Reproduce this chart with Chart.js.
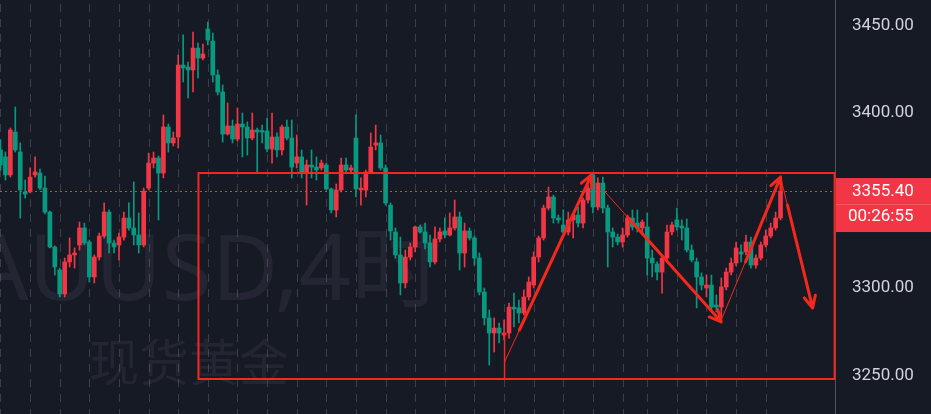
<!DOCTYPE html>
<html>
<head>
<meta charset="utf-8">
<script src="https://cdn.jsdelivr.net/npm/chart.js@4.4.1/dist/chart.umd.min.js"></script>
<style>
  html, body { margin: 0; padding: 0; background: #161a25; overflow: hidden; }
  canvas { display: block; }
</style>
</head>
<body>
<canvas id="chart" width="931" height="414"></canvas>
<script>
// XAUUSD 4H candles (oldest first)
const opens = [
  3378.9, 3374.9, 3364.6, 3389.1, 3377.7, 3354.9, 3354.9, 3364.6, 3365.7, 3357.1,
  3343.4, 3323.4, 3310.3, 3296.6, 3314.9, 3318.9, 3324.6, 3334.3, 3326.3, 3306.3,
  3317.7, 3329.7, 3343.4, 3325.7, 3324.6, 3329.1, 3340.0, 3334.3, 3330.3, 3324.6,
  3357.1, 3371.4, 3374.3, 3365.7, 3392.0, 3382.9, 3386.3, 3427.4, 3426.3, 3424.6,
  3437.1, 3431.4, 3448.0, 3441.1, 3421.7, 3412.0, 3388.0, 3392.6, 3385.1, 3393.7,
  3392.0, 3385.7, 3390.3, 3390.0, 3389.7, 3379.4, 3386.3, 3378.9, 3392.0, 3385.7,
  3371.4, 3374.9, 3365.7, 3370.3, 3369.1, 3368.6, 3370.3, 3356.6, 3344.6, 3356.0,
  3370.3, 3367.4, 3385.7, 3356.0, 3356.0, 3366.3, 3381.7, 3382.9, 3368.6, 3347.4,
  3332.0, 3318.9, 3302.9, 3317.7, 3323.4, 3334.9, 3332.0, 3325.7, 3314.9, 3328.0,
  3332.6, 3330.3, 3334.3, 3340.6, 3320.0, 3332.6, 3328.6, 3317.1, 3297.7, 3282.9,
  3274.3, 3277.1, 3273.1, 3274.3, 3289.1, 3288.6, 3285.7, 3294.9, 3301.7, 3317.7,
  3328.6, 3345.7, 3352.0, 3340.0, 3336.0, 3332.0, 3338.9, 3341.7, 3337.1, 3350.3,
  3364.6, 3346.3, 3360.0, 3345.7, 3332.0, 3329.1, 3326.3, 3330.3, 3340.0, 3337.1,
  3334.3, 3334.9, 3317.1, 3313.7, 3309.1, 3317.1, 3332.0, 3338.9, 3335.4, 3334.3,
  3321.7, 3314.9, 3306.3, 3300.0, 3301.7, 3290.3, 3289.1, 3300.6, 3309.1, 3314.3,
  3320.6, 3320.6, 3326.3, 3313.1, 3317.1, 3324.6, 3329.7, 3334.3, 3340.0
];
const highs = [
  3384.6, 3377.7, 3391.4, 3403.4, 3382.9, 3361.7, 3368.6, 3374.9, 3368.0, 3364.0,
  3344.0, 3324.0, 3311.4, 3317.1, 3328.6, 3322.9, 3337.7, 3337.1, 3327.4, 3318.9,
  3331.4, 3348.6, 3344.6, 3327.4, 3331.4, 3343.4, 3348.6, 3360.6, 3342.9, 3357.1,
  3377.1, 3377.7, 3375.4, 3398.9, 3393.7, 3389.1, 3433.1, 3444.6, 3429.1, 3446.3,
  3440.0, 3439.4, 3452.0, 3445.7, 3424.6, 3416.0, 3405.7, 3396.0, 3402.9, 3400.0,
  3394.9, 3400.0, 3391.4, 3393.1, 3397.1, 3400.0, 3388.6, 3393.1, 3396.0, 3396.0,
  3387.4, 3378.9, 3373.1, 3378.9, 3374.9, 3373.1, 3371.4, 3357.1, 3359.4, 3374.3,
  3374.3, 3370.3, 3398.9, 3362.9, 3367.4, 3388.6, 3393.1, 3387.4, 3370.3, 3348.6,
  3334.3, 3329.1, 3321.7, 3325.7, 3335.4, 3336.0, 3337.1, 3330.3, 3334.9, 3334.3,
  3340.0, 3342.9, 3350.3, 3343.4, 3337.1, 3334.3, 3329.7, 3320.0, 3300.0, 3287.4,
  3282.9, 3280.0, 3281.7, 3291.4, 3297.1, 3293.1, 3298.9, 3306.3, 3320.6, 3329.7,
  3347.4, 3357.7, 3353.1, 3341.7, 3344.6, 3343.4, 3342.9, 3346.3, 3351.4, 3358.9,
  3366.0, 3362.9, 3363.4, 3347.4, 3334.3, 3330.9, 3334.3, 3341.7, 3344.6, 3344.6,
  3338.9, 3342.9, 3321.7, 3314.9, 3318.9, 3336.0, 3337.7, 3345.7, 3338.9, 3339.4,
  3324.6, 3317.1, 3308.6, 3307.4, 3307.4, 3296.0, 3305.7, 3311.4, 3317.1, 3326.3,
  3324.6, 3330.3, 3329.1, 3318.9, 3326.3, 3333.1, 3337.1, 3343.4, 3363.4
];
const lows = [
  3367.4, 3361.7, 3363.4, 3377.7, 3340.0, 3351.4, 3354.3, 3363.4, 3356.0, 3342.3,
  3322.9, 3307.4, 3294.9, 3294.9, 3312.0, 3311.4, 3321.7, 3324.6, 3303.4, 3302.9,
  3316.0, 3328.6, 3320.0, 3320.0, 3316.0, 3327.4, 3333.1, 3324.6, 3320.0, 3323.4,
  3356.0, 3368.6, 3338.9, 3362.9, 3377.7, 3381.1, 3380.0, 3417.7, 3408.6, 3412.0,
  3420.0, 3430.3, 3438.9, 3417.7, 3410.3, 3383.4, 3387.4, 3382.9, 3384.0, 3374.9,
  3376.0, 3384.6, 3366.3, 3382.9, 3377.7, 3371.4, 3374.9, 3376.0, 3384.6, 3362.9,
  3368.6, 3362.9, 3347.4, 3362.9, 3361.7, 3367.4, 3356.0, 3342.9, 3340.6, 3354.9,
  3366.3, 3365.7, 3352.0, 3347.4, 3352.0, 3365.7, 3378.9, 3367.4, 3347.4, 3327.4,
  3317.1, 3296.0, 3300.0, 3316.0, 3320.6, 3331.4, 3322.3, 3312.0, 3313.7, 3326.3,
  3328.6, 3329.7, 3333.1, 3310.3, 3312.0, 3327.4, 3313.1, 3296.0, 3278.9, 3256.0,
  3263.4, 3268.6, 3270.3, 3271.4, 3277.7, 3280.0, 3284.6, 3293.1, 3300.0, 3314.9,
  3327.4, 3344.6, 3337.1, 3337.1, 3331.4, 3330.3, 3328.6, 3334.9, 3334.3, 3348.6,
  3342.9, 3344.6, 3342.9, 3312.0, 3323.4, 3324.6, 3323.4, 3329.1, 3333.1, 3332.0,
  3330.3, 3307.4, 3306.3, 3304.6, 3297.1, 3316.0, 3330.3, 3333.1, 3327.4, 3320.6,
  3314.9, 3288.6, 3298.9, 3294.9, 3287.4, 3286.3, 3283.4, 3298.9, 3307.4, 3312.6,
  3314.9, 3318.9, 3311.4, 3311.4, 3316.0, 3323.4, 3328.6, 3333.1, 3338.9
];
const closes = [
  3370.3, 3364.6, 3390.3, 3378.9, 3356.0, 3353.7, 3363.4, 3366.3, 3357.1, 3343.4,
  3323.4, 3312.0, 3296.6, 3314.9, 3318.9, 3320.0, 3334.3, 3325.7, 3306.3, 3317.7,
  3329.7, 3343.4, 3325.7, 3323.4, 3329.1, 3340.0, 3334.3, 3330.3, 3324.6, 3355.4,
  3371.4, 3374.3, 3365.7, 3392.0, 3382.9, 3385.7, 3427.4, 3425.7, 3424.6, 3437.1,
  3431.4, 3433.7, 3441.7, 3421.7, 3412.0, 3388.0, 3392.6, 3385.1, 3393.7, 3392.0,
  3385.7, 3390.3, 3389.1, 3389.1, 3379.4, 3386.3, 3378.9, 3392.0, 3385.7, 3369.1,
  3374.9, 3365.7, 3370.3, 3369.1, 3367.4, 3371.4, 3356.6, 3344.6, 3356.0, 3370.3,
  3367.4, 3368.6, 3356.6, 3357.1, 3366.3, 3380.6, 3382.9, 3368.6, 3348.6, 3332.6,
  3318.9, 3302.9, 3317.7, 3323.4, 3334.9, 3332.0, 3325.7, 3314.9, 3328.0, 3332.0,
  3330.3, 3334.3, 3340.6, 3320.0, 3332.6, 3328.6, 3317.1, 3297.7, 3282.9, 3274.3,
  3277.1, 3274.3, 3274.3, 3289.1, 3288.0, 3285.7, 3294.9, 3303.4, 3317.7, 3328.6,
  3345.7, 3352.0, 3340.0, 3338.9, 3332.0, 3338.9, 3341.7, 3337.1, 3350.3, 3357.1,
  3346.3, 3360.0, 3345.7, 3332.0, 3329.1, 3326.3, 3330.3, 3340.0, 3334.9, 3334.3,
  3337.7, 3317.1, 3314.3, 3309.1, 3317.1, 3332.0, 3336.0, 3334.9, 3334.3, 3321.7,
  3316.0, 3306.3, 3301.7, 3301.7, 3289.1, 3289.1, 3300.6, 3309.1, 3314.3, 3322.9,
  3319.4, 3326.3, 3313.1, 3317.1, 3324.6, 3329.7, 3334.3, 3340.0, 3355.4
];

// price axis labels (3350 sits under the live price tag)
const axisTicks = [3250, 3300, 3400, 3450];
// candle indices where the daily separators fall
const gridIdx = [0, 6, 12, 18, 24, 30, 36, 42, 48, 54, 60, 66, 72, 78, 84, 90, 96,
                 102, 108, 114, 120, 126, 131, 137, 143, 149, 155];
const countdown = '00:26:55';

// drawings in (candle index, price)
const rangeBox = [40.1, 168.95, 3365.7, 3248.0];          // x0, x1, top, bottom
const markerLine = [102.1, 3274.3, 3248.0];               // x, from, to
const thinLines = [
  [102.1, 3257.7, 119.7, 3364.6],
  [122.1, 3356.0, 146.0, 3280.6],
  [146.0, 3281.7, 158.0, 3363.4],
  [158.0, 3363.4, 164.5, 3288.6]
];
const arrows = [
  [105.1, 3276.0, 119.7, 3364.6],
  [127.0, 3340.6, 146.0, 3280.6],
  [150.9, 3314.9, 158.0, 3363.4],
  [159.4, 3347.4, 164.5, 3288.6]
];

const BG = '#161a25';
const UP = '#f23645';     // red = up
const DOWN = '#089981';   // green = down
const DRAW = '#f4281c';
const idx = closes.map((_, i) => i);
const candleColor = idx.map(i => closes[i] >= opens[i] ? UP : DOWN);

const overlay = {
  id: 'overlay',
  beforeDraw(chart) {
    const ctx = chart.ctx;
    ctx.save();
    ctx.fillStyle = BG;
    ctx.fillRect(0, 0, chart.width, chart.height);
    ctx.restore();
  },
  beforeDatasetsDraw(chart) {
    const { ctx, chartArea: a, scales: { x } } = chart;
    ctx.save();
    // vertical dashed separators
    ctx.strokeStyle = '#3b3f4c';
    ctx.lineWidth = 1;
    ctx.setLineDash([8, 7]);
    ctx.lineDashOffset = -4;
    gridIdx.forEach(v => {
      const px = Math.round(x.getPixelForValue(v)) + 0.5;
      ctx.beginPath();
      ctx.moveTo(px, a.top);
      ctx.lineTo(px, a.bottom);
      ctx.stroke();
    });
    ctx.setLineDash([]);
    // watermark
    ctx.fillStyle = 'rgba(130,134,148,0.12)';
    ctx.textBaseline = 'alphabetic';
    ctx.textAlign = 'right';
    ctx.font = '91px "Noto Sans", "Noto Sans CJK SC", sans-serif';
    ctx.fillText('XAUUSD,4时', 442, 300);
    ctx.textAlign = 'left';
    ctx.font = '50px "Noto Sans CJK SC", sans-serif';
    ctx.fillText('现货黄金', 89, 381);
    ctx.restore();
  },
  afterDatasetsDraw(chart) {
    const { ctx, chartArea: a, scales: { x, y } } = chart;
    ctx.save();
    // live price line
    const py = Math.round(y.getPixelForValue(closes[closes.length - 1])) + 0.5;
    ctx.strokeStyle = UP;
    ctx.lineWidth = 1;
    ctx.setLineDash([2, 3]);
    ctx.beginPath();
    ctx.moveTo(a.left, py);
    ctx.lineTo(a.right, py);
    ctx.stroke();
    ctx.setLineDash([]);

    // range rectangle
    ctx.strokeStyle = DRAW;
    ctx.lineWidth = 2;
    const rx0 = x.getPixelForValue(rangeBox[0]);
    const rx1 = x.getPixelForValue(rangeBox[1]);
    const ry0 = y.getPixelForValue(rangeBox[2]);
    const ry1 = y.getPixelForValue(rangeBox[3]);
    ctx.strokeRect(rx0, ry0, rx1 - rx0, ry1 - ry0);

    // vertical marker
    ctx.lineWidth = 1.5;
    const mx = x.getPixelForValue(markerLine[0]);
    ctx.beginPath();
    ctx.moveTo(mx, y.getPixelForValue(markerLine[1]));
    ctx.lineTo(mx, y.getPixelForValue(markerLine[2]));
    ctx.stroke();

    // thin trend lines
    ctx.lineWidth = 1;
    thinLines.forEach(l => {
      ctx.beginPath();
      ctx.moveTo(x.getPixelForValue(l[0]), y.getPixelForValue(l[1]));
      ctx.lineTo(x.getPixelForValue(l[2]), y.getPixelForValue(l[3]));
      ctx.stroke();
    });

    // thick arrows
    ctx.lineWidth = 3;
    ctx.lineCap = 'round';
    ctx.lineJoin = 'round';
    arrows.forEach(l => {
      const x1 = x.getPixelForValue(l[0]), y1 = y.getPixelForValue(l[1]);
      const x2 = x.getPixelForValue(l[2]), y2 = y.getPixelForValue(l[3]);
      const ang = Math.atan2(y2 - y1, x2 - x1);
      const len = 13, spread = 0.45;
      ctx.beginPath();
      ctx.moveTo(x1, y1);
      ctx.lineTo(x2, y2);
      ctx.moveTo(x2 - len * Math.cos(ang - spread), y2 - len * Math.sin(ang - spread));
      ctx.lineTo(x2, y2);
      ctx.lineTo(x2 - len * Math.cos(ang + spread), y2 - len * Math.sin(ang + spread));
      ctx.stroke();
    });
    ctx.restore();
  },
  afterDraw(chart) {
    const { ctx, chartArea: a, scales: { y } } = chart;
    const last = closes[closes.length - 1];
    const py = y.getPixelForValue(last);
    ctx.save();
    ctx.fillStyle = UP;
    ctx.fillRect(a.right + 1, py - 13, chart.width - a.right - 1, 54);
    ctx.fillStyle = 'rgba(255,255,255,0.18)';
    ctx.fillRect(a.right + 1, py + 13, chart.width - a.right - 1, 1);
    ctx.fillStyle = '#ffffff';
    ctx.font = '17px Roboto, sans-serif';
    ctx.textAlign = 'left';
    ctx.textBaseline = 'middle';
    ctx.fillText(last.toFixed(2), a.right + 17, py + 0.5);
    ctx.fillText(countdown, a.right + 13, py + 26);
    ctx.restore();
  }
};

new Chart(document.getElementById('chart'), {
  type: 'bar',
  data: {
    datasets: [
      {
        label: 'body',
        data: idx.map(i => ({ x: i, y: [opens[i], closes[i]] })),
        backgroundColor: candleColor,
        borderWidth: 0,
        barThickness: 4,
        minBarLength: 1,
        grouped: false,
        order: 0
      },
      {
        label: 'wick',
        data: idx.map(i => ({ x: i, y: [lows[i], highs[i]] })),
        backgroundColor: candleColor,
        borderWidth: 0,
        barThickness: 1,
        grouped: false,
        order: 1
      }
    ]
  },
  options: {
    responsive: false,
    animation: false,
    layout: { padding: 0 },
    plugins: { legend: { display: false }, tooltip: { enabled: false } },
    scales: {
      x: {
        type: 'linear',
        display: false,
        offset: false,
        min: -0.1,
        max: 169.03
      },
      y: {
        type: 'linear',
        position: 'right',
        min: 3228,
        max: 3464.57,
        afterFit(scale) {
          scale.width = 96;
          scale.paddingTop = 0;
          scale.paddingBottom = 0;
        },
        afterBuildTicks(scale) { scale.ticks = axisTicks.map(v => ({ value: v })); },
        grid: { display: false, drawTicks: false },
        border: { display: true, color: '#4c505b', width: 1 },
        ticks: {
          autoSkip: false,
          padding: 17,
          color: '#d1d4dc',
          font: { family: 'Roboto', size: 17 },
          callback: v => Number(v).toFixed(2)
        }
      }
    }
  },
  plugins: [overlay]
});
</script>
</body>
</html>
